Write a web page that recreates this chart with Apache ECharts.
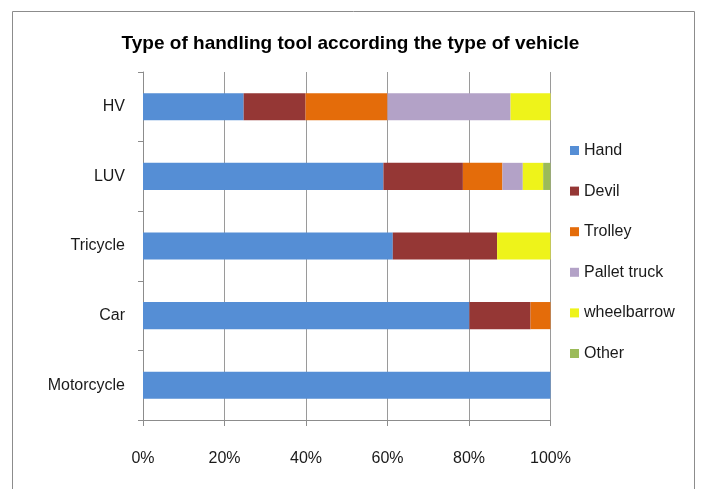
<!DOCTYPE html>
<html><head><meta charset="utf-8">
<script src="https://cdn.jsdelivr.net/npm/echarts@6/dist/echarts.min.js"></script>
<style>html,body{margin:0;padding:0;background:#fff}#c{width:701px;height:489px}</style>
</head><body><div id="c"></div>
<script>
const categories = ['Motorcycle', 'Car', 'Tricycle', 'LUV', 'HV'];
const hand        = [100, 80.1, 61.3, 59.0, 24.7];
const devil       = [0, 15.0, 25.6, 19.5, 15.2];
const trolley     = [0, 4.9, 0, 9.7, 20.1];
const palletTruck = [0, 0, 0, 5.0, 30.2];
const wheelbarrow = [0, 0, 13.1, 5.0, 9.8];
const other       = [0, 0, 0, 1.8, 0];
const tickLabels  = ['0%', '20%', '40%', '60%', '80%', '100%'];

const seriesDefs = [
  ['Hand', hand, '#558ed5'],
  ['Devil', devil, '#953735'],
  ['Trolley', trolley, '#e46c0a'],
  ['Pallet truck', palletTruck, '#b3a2c7'],
  ['wheelbarrow', wheelbarrow, '#eef31a'],
  ['Other', other, '#9bbb59']
];
const font = '"Liberation Sans", Arial, sans-serif';
const chart = echarts.init(document.getElementById('c'), null, {renderer: 'canvas'});
chart.setOption({
  animation: false,
  backgroundColor: '#fff',
  title: {
    text: 'Type of handling tool according the type of vehicle',
    left: 'center', top: 29,
    textStyle: {fontFamily: font, fontSize: 19, fontWeight: 'bold', color: '#000'}
  },
  graphic: [{
    type: 'rect', silent: true, z: -1,
    shape: {x: 12.5, y: 11.5, width: 682, height: 500},
    style: {fill: 'none', stroke: '#8c8c8c', lineWidth: 1}
  }],
  legend: {
    orient: 'vertical', left: 565, top: 135.5,
    itemWidth: 9, itemHeight: 9, itemGap: 20.6,
    icon: 'rect',
    textStyle: {fontFamily: font, fontSize: 16, color: '#1a1a1a', lineHeight: 20},
    data: seriesDefs.map(d => d[0])
  },
  grid: {left: 143, right: 150.5, top: 72, bottom: 69, containLabel: false},
  xAxis: {
    type: 'value', min: 0, max: 100, interval: 20,
    axisLine: {show: true, lineStyle: {color: '#8c8c8c', width: 1}},
    axisTick: {show: true, length: 6, lineStyle: {color: '#8c8c8c'}},
    splitLine: {show: true, lineStyle: {color: '#9a9a9a', width: 1}},
    axisLabel: {
      margin: 31, fontFamily: font, fontSize: 16, color: '#1a1a1a',
      formatter: v => tickLabels[Math.round(v / 20)]
    }
  },
  yAxis: {
    type: 'category', data: categories,
    axisLine: {show: true, lineStyle: {color: '#8c8c8c', width: 1}},
    axisTick: {show: true, length: 5, lineStyle: {color: '#8c8c8c'}},
    axisLabel: {margin: 18, fontFamily: font, fontSize: 16, color: '#1a1a1a'}
  },
  series: seriesDefs.map(d => ({
    name: d[0], type: 'bar', stack: 'total', data: d[1],
    barWidth: '39%',
    itemStyle: {color: d[2]}
  }))
});
</script></body></html>
